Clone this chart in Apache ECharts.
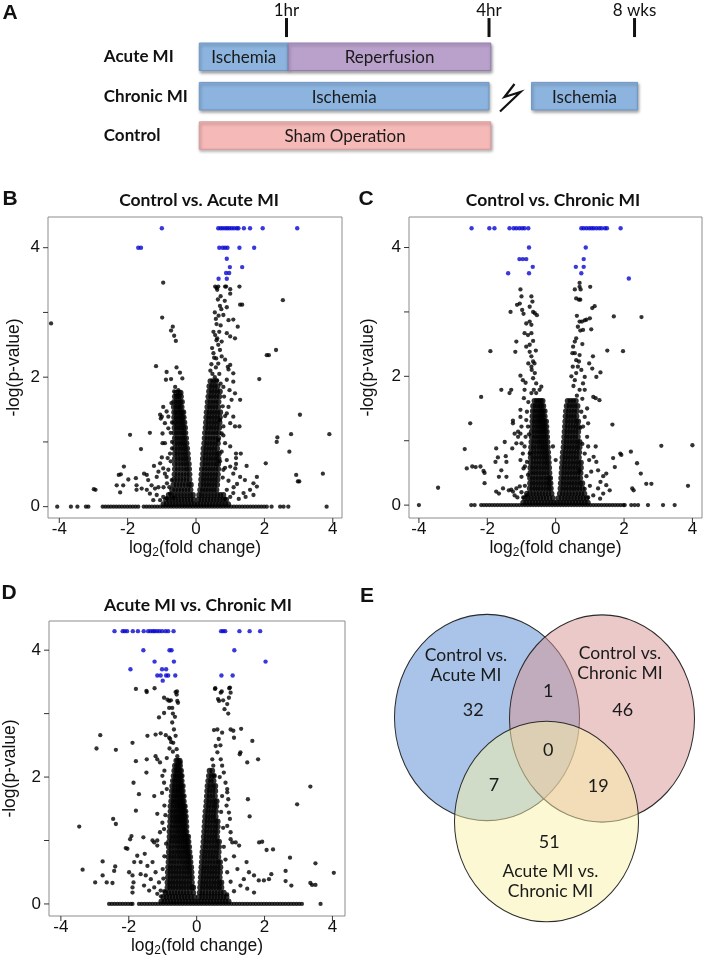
<!DOCTYPE html>
<html><head><meta charset="utf-8">
<script src="https://cdn.jsdelivr.net/npm/echarts@6/dist/echarts.min.js"></script>
<style>html,body{margin:0;padding:0;background:#fff}#c{width:703px;height:958px}</style>
</head><body><div id="c"></div>
<script>
// ---------- Panel A: study design timeline (schematic positions 0-100) ----------
const stageRows = ['Acute MI', 'Chronic MI', 'Control'];
const stageLabels = ['Ischemia', 'Reperfusion', 'Ischemia', 'Ischemia', 'Sham Operation'];
const stageKind = ['isch', 'rep', 'isch', 'isch', 'sham'];
const stageRow = [0, 0, 1, 1, 2];
const stageStart = [0, 20.3, 0, 75.8, 0];
const stageEnd = [20.3, 66.5, 66.1, 100, 66.5];
const timeTickLabels = ['1hr', '4hr', '8 wks'];
const timeTickPos = [19.9, 66.1, 99.3];

// ---------- Panel titles ----------
const volcanoTitles = ['Control vs. Acute MI', 'Control vs. Chronic MI', 'Acute MI vs. Chronic MI'];
const xTicks = [-4, -2, 0, 2, 4];
const yTickMarks = [0, 1, 2, 3, 4];
const yTickLabels = [0, 2, 4];

// ---------- Panel B: Control vs. Acute MI ----------
const bSig = [[-1.0,4.3],[0.65,4.3],[0.72,4.3],[0.78,4.3],[0.85,4.3],[0.91,4.3],[0.97,4.3],[1.04,4.3],[1.11,4.3],[1.19,4.3],[1.24,4.3],[1.40,4.3],[1.58,4.3],[1.95,4.3],[2.96,4.3],
[-1.69,4.0],[-1.61,4.0],[0.68,4.0],[0.78,4.0],[0.85,4.0],[0.92,4.0],[1.27,4.0],[1.70,4.0],
[0.90,3.83],[0.99,3.70],[1.35,3.70],[0.88,3.61],[0.97,3.61],[0.66,3.52],[0.90,3.52]];
const bOut = [[-4.24,2.83],[-0.96,3.46],[-0.99,2.92],[-0.73,2.72],[-0.68,2.78],[-0.64,2.64],[-0.59,2.56],[-1.17,2.17],[-0.86,2.08],[-0.88,1.96],[-0.73,1.97],[-0.57,2.15],[-0.47,2.07],[-0.40,1.98],[-0.61,1.85],[-0.64,1.78],[-0.52,1.80],[-0.96,1.54],[-0.86,1.47],[-0.81,1.39],[-1.0,1.39],[-1.05,1.42],[-1.03,1.36],[-0.91,1.29],[-0.81,1.21],[-0.74,1.14],[-0.98,1.13],[-0.98,0.98],[-0.91,0.98],[-1.35,1.14],[-1.93,1.11],[-1.61,0.89],[-0.76,0.82],[-0.83,0.75],[-1.0,0.76],[-1.05,0.67],[-0.96,0.59],[-1.1,0.54],[-0.91,0.51],[-1.15,0.46],[-1.23,0.63],[-1.44,0.49],[-1.52,0.51],[-1.40,0.41],[-1.30,0.33],[-1.2,0.28],[-1.44,0.26],[-1.59,0.28],[-1.76,0.44],[-1.74,0.33],[-1.74,0.26],[-2.11,0.62],[-2.26,0.49],[-2.2,0.5],[-2.32,0.33],[-2.13,0.33],[-2.22,0.22],[-2.99,0.27],[-2.94,0.26],[-1.98,0.42],[-0.86,0.46],[-0.81,0.57],[-0.74,0.7],[-0.71,0.41],[-1.35,0.2],[-1.15,0.18],[-0.96,0.15],[-0.86,0.13],[-1.25,0.1],[-1.05,0.1],[-0.76,0.2],[-0.66,0.14],[-1.1,0.3],[-0.95,0.3],[-0.85,0.36],[-0.78,0.3],[-0.7,1.3],[-0.72,1.6],[-0.7,1.0],[-0.7,0.9],
[0.56,3.40],[0.60,3.38],[0.88,3.40],[1.0,3.36],[0.65,3.40],[0.62,3.35],[0.85,3.40],[1.27,3.40],[1.0,3.29],[0.70,3.10],[1.29,3.12],[1.35,3.12],[0.80,2.96],[0.95,2.88],[1.09,2.89],[1.22,2.78],[1.14,2.60],[0.51,2.70],[0.56,2.65],[0.60,2.57],[0.65,2.50],[0.75,2.55],[0.70,2.42],[0.9,2.68],[1.0,2.63],[0.51,2.37],[0.59,2.29],[0.65,2.21],[0.75,2.32],[0.85,2.27],[0.93,2.16],[1.0,2.19],[0.95,2.12],[1.09,2.06],[0.9,1.96],[1.09,1.93],[0.98,1.80],[1.14,1.75],[1.04,1.65],[1.29,1.65],[0.95,1.54],[0.9,1.44],[1.09,1.39],[1.0,1.29],[1.14,1.24],[1.27,1.24],[0.70,1.34],[0.8,1.24],[0.75,1.13],[0.65,1.03],[0.85,0.98],[1.0,0.93],[1.17,0.82],[1.31,0.82],[1.17,0.75],[1.17,0.66],[1.15,0.59],[1.48,0.63],[0.9,0.72],[1.0,0.62],[0.8,0.57],[1.09,0.51],[1.29,0.46],[1.43,0.41],[1.78,0.46],[1.68,0.36],[1.78,0.31],[1.58,0.26],[1.39,0.21],[1.09,0.21],[0.9,0.26],[1.68,0.18],[2.54,3.19],[2.07,2.34],[2.13,2.34],[2.34,2.42],[1.85,1.97],[3.04,1.42],[3.90,1.12],[2.78,1.12],[2.38,1.07],[2.36,1.0],[2.73,0.85],[2.04,0.67],[2.93,0.49],[2.98,0.39],[3.02,0.39],[3.71,0.51],
[0.45,2.2],[0.48,2.05],[0.55,2.0],[0.62,1.95],[0.72,1.9],[0.8,1.85],[0.82,1.7],[0.78,1.55],[0.85,1.4],[0.8,1.1],[0.75,0.85],[0.7,0.7],[0.85,0.6],[0.78,0.45],[0.95,0.4],[1.2,0.35],[1.0,0.15],[1.25,0.12],[1.45,0.15],[0.85,0.12],[1.1,0.3],[0.47,2.45],[0.53,2.3],[0.58,2.15],[0.42,2.1],[0.68,2.05],[0.62,2.6],[0.68,2.7],[0.72,2.8],[0.58,2.9],[0.66,2.95],[0.74,3.05],[0.64,3.2],[0.72,3.25],[0.84,3.18],[0.9,3.08],[0.55,3.0],[0.6,2.82]];
const bBase = [-4.06,-3.66,-3.47,-3.22,-3.15,-2.73,-2.65,-2.57,-2.49,-2.41,-2.33,-2.25,-2.17,-2.09,-2.01,-1.93,-1.85,-1.77,-1.69,-1.53,-1.45,-1.37,-1.29,-1.21,-1.13,-1.05,-0.97,-0.89,-0.81,-0.73,-0.65,-0.57,-0.49,-0.41,-0.33,-0.25,-0.17,-0.09,-0.01,0.07,0.15,0.23,0.31,0.39,0.47,0.55,0.63,0.71,0.79,0.87,0.95,1.03,1.11,1.19,1.27,1.35,1.43,1.51,1.59,1.67,1.75,1.83,1.91,1.99,2.07,2.21,2.46,2.56,2.7,3.82];
const bCore = [
[0.04,-0.95,-0.86,-0.77,-0.68,-0.59,-0.5,-0.41,-0.32,-0.23,-0.14,-0.05,0.04,0.13,0.22,0.31,0.4,0.49,0.58,0.67,0.76,0.85,0.94],
[0.11,-0.88,-0.79,-0.7,-0.61,-0.52,-0.43,-0.34,-0.25,-0.16,-0.07,0.07,0.16,0.25,0.34,0.43,0.52,0.61,0.7,0.79,0.88],
[0.18,-0.8,-0.71,-0.62,-0.53,-0.44,-0.35,-0.26,-0.17,-0.09,0.09,0.17,0.26,0.35,0.44,0.53,0.62,0.71,0.8],
[0.26,-0.7,-0.61,-0.52,-0.43,-0.34,-0.25,-0.16],[0.34,-0.66,-0.57,-0.48,-0.39,-0.3,-0.21,-0.15],[0.42,-0.64,-0.55,-0.46,-0.37,-0.28,-0.19],[0.5,-0.63,-0.54,-0.45,-0.36,-0.27,-0.19],[0.58,-0.62,-0.53,-0.44,-0.35,-0.27,-0.2],[0.66,-0.62,-0.53,-0.44,-0.36,-0.28,-0.21],[0.74,-0.62,-0.53,-0.45,-0.37,-0.3,-0.23],[0.82,-0.62,-0.54,-0.46,-0.38,-0.31,-0.24],[0.9,-0.62,-0.54,-0.46,-0.39,-0.32,-0.26],[0.98,-0.62,-0.54,-0.47,-0.4,-0.34,-0.28],[1.06,-0.62,-0.55,-0.48,-0.41,-0.35,-0.29],[1.14,-0.63,-0.56,-0.49,-0.42,-0.36,-0.31],[1.22,-0.63,-0.56,-0.49,-0.43,-0.37,-0.32],[1.3,-0.63,-0.57,-0.5,-0.44,-0.39,-0.34],[1.38,-0.64,-0.57,-0.51,-0.45,-0.4,-0.36],[1.46,-0.64,-0.58,-0.52,-0.46,-0.41,-0.37],[1.54,-0.65,-0.58,-0.52,-0.47,-0.42],[1.62,-0.64,-0.58,-0.52,-0.46,-0.41],[1.7,-0.62,-0.56,-0.5,-0.44],[1.76,-0.58,-0.5,-0.45],
[0.26,0.12,0.2,0.28,0.36,0.44,0.52,0.6],[0.34,0.14,0.22,0.3,0.38,0.46,0.54,0.62],[0.42,0.15,0.23,0.31,0.39,0.47,0.55,0.63],[0.5,0.16,0.24,0.32,0.4,0.48,0.56,0.64],[0.58,0.17,0.25,0.33,0.41,0.49,0.57,0.65],[0.66,0.19,0.27,0.35,0.43,0.51,0.59,0.65],[0.74,0.2,0.28,0.36,0.44,0.52,0.6,0.66],[0.82,0.21,0.29,0.37,0.45,0.53,0.61,0.67],[0.9,0.22,0.3,0.38,0.46,0.54,0.62],[0.98,0.24,0.32,0.4,0.48,0.56,0.64],[1.06,0.25,0.33,0.41,0.49,0.57,0.65],[1.14,0.26,0.34,0.42,0.5,0.58,0.66],[1.22,0.28,0.36,0.44,0.52,0.6,0.68],[1.3,0.29,0.37,0.45,0.53,0.61,0.69],[1.38,0.3,0.38,0.46,0.54,0.62,0.7],[1.46,0.31,0.39,0.47,0.55,0.63,0.71],[1.54,0.33,0.41,0.49,0.57,0.65],[1.62,0.34,0.42,0.5,0.58,0.66],[1.7,0.36,0.44,0.52,0.6,0.68],[1.78,0.38,0.46,0.54,0.62,0.7],[1.86,0.39,0.47,0.55,0.63],[1.94,0.42,0.5,0.58]];

// ---------- Panel C: Control vs. Chronic MI ----------
const cSig = [[-2.46,4.3],[-1.94,4.3],[-1.79,4.3],[-1.35,4.3],[-1.23,4.3],[-1.15,4.3],[-1.06,4.3],[-0.98,4.3],[-0.91,4.3],[-0.80,4.3],[0.75,4.3],[0.82,4.3],[0.90,4.3],[0.98,4.3],[1.05,4.3],[1.11,4.3],[1.19,4.3],[1.27,4.3],[1.34,4.3],[1.44,4.3],[1.50,4.3],[1.90,4.3],
[-0.78,4.0],[0.88,4.0],[-1.06,3.82],[-0.96,3.82],[-0.86,3.82],[0.82,3.82],[-0.67,3.70],[0.59,3.70],[0.82,3.70],[-1.39,3.60],[-0.78,3.60],[0.75,3.60],[2.14,3.52]];
const cOut = [[-3.44,0.27],[-2.66,0.87],[-2.60,0.57],[-2.44,0.60],[-2.34,0.59],[-2.2,0.60],[-2.11,0.53],[-2.08,0.5],[-2.08,0.34],[-2.50,1.27],[-2.18,1.68],[-1.91,2.39],[-1.74,0.88],[-1.76,0.67],[-1.69,0.74],[-1.59,1.79],[-1.59,0.54],[-1.66,0.44],[-1.74,0.21],[-1.66,0.18],[-1.54,0.26],[-1.49,0.98],[-1.46,0.76],[-1.44,0.67],[-1.44,0.44],[-1.35,1.74],[-1.30,1.79],[-1.30,0.24],[-1.37,0.23],[-1.25,0.21],[-1.15,0.26],[-1.05,0.29],[-1.25,1.31],[-1.25,1.27],[-1.27,0.88],[-1.15,0.96],[-1.10,1.06],[-1.03,1.11],[-1.2,1.11],[-1.18,2.38],[-1.15,2.54],[-1.13,3.11],[-1.05,3.13],[-1.32,3.0],[-1.0,3.24],[-1.03,3.35],[-0.98,3.03],[-0.94,2.97],[-0.71,3.24],[-0.68,3.16],[-0.76,3.08],[-0.66,3.0],[-0.61,2.98],[-0.55,2.95],[-0.86,2.82],[-0.76,2.85],[-0.71,2.80],[-0.91,2.67],[-0.81,2.64],[-0.71,2.67],[-0.86,2.46],[-0.76,2.49],[-0.76,2.38],[-0.71,2.31],[-0.66,2.23],[-0.71,2.15],[-0.61,2.05],[-0.66,1.97],[-0.57,1.89],[-0.64,1.79],[-0.71,1.74],[-0.57,1.74],[-0.47,1.79],[-0.42,1.84],[-1.03,2.01],[-0.96,1.94],[-0.88,1.90],[-0.91,1.79],[-0.93,1.66],[-1.03,1.48],[-1.03,1.37],[-1.0,1.22],[-1.10,1.14],[-1.0,0.96],[-0.96,0.80],[-1.03,0.70],[-0.94,0.57],[-1.0,0.44],[-0.86,1.32],[-0.81,1.22],[-0.88,1.06],[-0.91,0.91],[-0.76,0.80],[-0.84,0.67],[-0.81,0.47],[-0.08,0.91],[0.0,0.70],[-0.9,0.3],[-1.0,0.2],[-0.85,0.15],[-0.95,0.12],[-1.12,0.12],[-0.7,2.1],[-0.62,2.2],[-0.8,2.2],[-0.58,2.4],[-0.66,2.55],[-0.8,1.6],[-0.84,1.45],[-0.78,1.1],[-0.9,0.6],[-1.2,0.15],
[0.56,3.35],[0.70,3.39],[0.70,3.45],[1.01,3.39],[0.60,3.21],[0.68,3.19],[0.72,3.19],[1.14,3.09],[1.07,3.06],[0.62,2.94],[0.70,2.85],[0.77,2.85],[0.85,2.87],[0.90,2.88],[1.0,2.90],[1.04,2.73],[0.65,2.77],[0.72,2.71],[0.80,2.72],[0.51,2.46],[0.56,2.54],[0.60,2.59],[0.49,2.36],[0.56,2.36],[0.70,2.33],[0.78,2.5],[0.60,2.25],[0.68,2.23],[0.65,2.15],[0.75,2.10],[0.60,2.05],[0.46,2.0],[0.56,1.94],[0.98,2.20],[1.09,2.31],[1.07,2.12],[1.31,2.06],[1.19,1.99],[0.85,1.99],[0.80,1.89],[0.70,1.79],[0.85,1.79],[1.10,1.68],[1.28,1.63],[1.17,1.66],[0.92,1.50],[0.85,1.37],[0.95,1.27],[0.80,1.22],[0.92,1.06],[0.95,0.91],[0.85,0.80],[0.98,0.70],[1.17,0.91],[1.11,0.75],[1.19,0.67],[1.24,0.54],[1.04,0.52],[1.39,0.45],[1.48,0.49],[1.31,0.36],[1.48,0.31],[1.58,0.23],[1.39,0.18],[1.24,0.26],[1.70,2.93],[1.51,2.40],[1.97,2.39],[1.66,1.25],[1.89,0.80],[1.92,0.78],[1.68,0.73],[1.73,0.59],[2.20,0.83],[2.38,0.65],[2.49,0.49],[2.24,0.26],[2.28,0.23],[2.65,0.33],[2.80,0.33],[2.51,2.92],[3.09,0.92],[4.0,0.93],[3.87,0.30],[0.70,0.53],[0.73,3.35],[0.5,2.15],[0.52,1.85],[0.62,1.7],[0.78,1.65],[0.75,1.45],[0.72,1.2],[0.78,0.95],[0.9,0.45],[1.0,0.3],[0.85,0.25],[1.1,0.15],[0.95,0.12],[1.3,0.1]];
const cBase = [-4.0,-2.47,-2.37,-2.18,-2.1,-2.02,-1.94,-1.86,-1.78,-1.7,-1.62,-1.54,-1.46,-1.38,-1.3,-1.22,-1.14,-1.06,-0.98,-0.9,-0.82,-0.74,-0.66,-0.58,-0.5,-0.42,-0.34,-0.26,-0.18,-0.1,-0.02,0.06,0.14,0.22,0.3,0.38,0.46,0.54,0.62,0.7,0.78,0.86,0.94,1.02,1.1,1.18,1.26,1.34,1.42,1.5,1.58,1.66,1.74,1.82,1.9,1.98,2.02,2.21,2.31,2.41,2.70,3.14,3.48];
const cCore = [
[0.04,-0.95,-0.86,-0.77,-0.68,-0.59,-0.5,-0.41,-0.32,-0.23,-0.14,-0.05,0.04,0.13,0.22,0.31,0.4,0.49,0.58,0.67,0.76,0.85,0.94],
[0.11,-0.9,-0.81,-0.72,-0.63,-0.54,-0.45,-0.36,-0.27,-0.18,-0.08,0.08,0.18,0.27,0.36,0.45,0.54,0.63,0.72,0.81,0.9],
[0.18,-0.84,-0.75,-0.66,-0.57,-0.48,-0.39,-0.3,-0.21,-0.12,0.12,0.21,0.3,0.39,0.48,0.57,0.66,0.75,0.84],
[0.26,-0.76,-0.68,-0.6,-0.52,-0.44,-0.36,-0.28,-0.2,-0.14],[0.34,-0.75,-0.67,-0.59,-0.51,-0.43,-0.35,-0.27,-0.2,-0.15],[0.42,-0.75,-0.67,-0.59,-0.51,-0.43,-0.35,-0.27,-0.2,-0.16],[0.5,-0.74,-0.66,-0.58,-0.5,-0.42,-0.34,-0.26,-0.18],[0.58,-0.74,-0.66,-0.58,-0.5,-0.42,-0.34,-0.26,-0.19],[0.66,-0.73,-0.65,-0.57,-0.49,-0.41,-0.33,-0.26,-0.2],[0.74,-0.73,-0.65,-0.57,-0.49,-0.41,-0.34,-0.27,-0.21],[0.82,-0.72,-0.64,-0.56,-0.48,-0.41,-0.34,-0.28,-0.22],[0.9,-0.72,-0.64,-0.56,-0.48,-0.41,-0.35,-0.29,-0.23],[0.98,-0.71,-0.63,-0.55,-0.48,-0.42,-0.36,-0.3,-0.24],[1.06,-0.7,-0.62,-0.55,-0.48,-0.42,-0.36,-0.3,-0.25],[1.14,-0.7,-0.62,-0.55,-0.48,-0.42,-0.37,-0.31,-0.26],[1.22,-0.69,-0.61,-0.54,-0.48,-0.42,-0.37,-0.32,-0.27],[1.3,-0.68,-0.61,-0.54,-0.48,-0.43,-0.38,-0.33,-0.28],[1.38,-0.68,-0.6,-0.53,-0.47,-0.42,-0.37,-0.32],[1.46,-0.67,-0.6,-0.53,-0.47,-0.42,-0.37,-0.32],[1.54,-0.66,-0.59,-0.52,-0.46,-0.41,-0.36],[1.62,-0.62,-0.55,-0.49,-0.43,-0.38],
[0.26,0.14,0.22,0.3,0.38,0.46,0.54,0.62,0.7,0.78],[0.34,0.15,0.23,0.31,0.39,0.47,0.55,0.63,0.71,0.78],[0.42,0.16,0.24,0.32,0.4,0.48,0.56,0.64,0.72],[0.5,0.17,0.25,0.33,0.41,0.49,0.57,0.65,0.73],[0.58,0.18,0.26,0.34,0.42,0.5,0.58,0.66,0.74],[0.66,0.19,0.27,0.35,0.43,0.51,0.59,0.67,0.74],[0.74,0.2,0.28,0.36,0.44,0.52,0.6,0.68],[0.82,0.21,0.29,0.37,0.45,0.53,0.61,0.69],[0.9,0.23,0.31,0.39,0.47,0.55,0.63,0.7],[0.98,0.24,0.32,0.4,0.48,0.56,0.64,0.7],[1.06,0.25,0.33,0.41,0.49,0.57,0.65],[1.14,0.26,0.34,0.42,0.5,0.58,0.66],[1.22,0.27,0.35,0.43,0.51,0.59,0.66],[1.3,0.28,0.36,0.44,0.52,0.6,0.66],[1.38,0.29,0.37,0.45,0.53,0.61],[1.46,0.3,0.38,0.46,0.54,0.62],[1.54,0.32,0.4,0.48,0.56,0.64],[1.62,0.35,0.43,0.51,0.59]];

// ---------- Panel D: Acute MI vs. Chronic MI ----------
const dSig = [[-2.42,4.3],[-2.18,4.3],[-2.12,4.3],[-2.05,4.3],[-1.88,4.3],[-1.73,4.3],[-1.56,4.3],[-1.43,4.3],[-1.36,4.3],[-1.29,4.3],[-1.24,4.3],[-1.17,4.3],[-1.10,4.3],[-1.02,4.3],[-0.92,4.3],[-0.84,4.3],[-0.68,4.3],[0.72,4.3],[0.78,4.3],[0.84,4.3],[1.26,4.3],[1.56,4.3],[1.87,4.3],
[-1.57,4.0],[-0.80,4.0],[-0.74,4.0],[1.11,4.0],[-1.24,3.82],[-0.67,3.82],[2.03,3.82],[-1.95,3.70],[-1.02,3.70],[-0.90,3.70],
[-1.16,3.60],[-1.06,3.60],[-0.90,3.60],[-0.84,3.60],[-0.63,3.60],[0.73,3.60],[1.06,3.60],[-1.0,3.52]];
const dOut = [[-1.79,3.39],[-1.47,3.34],[-1.24,3.40],[-1.48,3.36],[-0.58,3.35],[-0.96,3.25],[-0.86,3.22],[-0.81,3.20],[-0.76,3.21],[-0.72,3.09],[-0.62,3.34],[-0.59,3.30],[-0.57,3.20],[-0.55,3.17],[-1.11,2.94],[-0.96,3.01],[-0.81,3.09],[-2.84,2.66],[-2.95,2.45],[-2.38,2.43],[-1.89,2.54],[-1.79,2.25],[-1.45,2.65],[-1.21,2.67],[-1.06,2.69],[-0.91,2.66],[-0.81,2.62],[-1.47,2.28],[-1.48,2.07],[-1.21,2.33],[-1.16,2.28],[-1.08,2.23],[-1.01,2.02],[-0.96,1.91],[-0.88,1.81],[-0.72,2.86],[-0.67,2.75],[-0.62,2.65],[-0.69,2.54],[-0.59,2.44],[-0.57,2.33],[-0.47,2.23],[-1.86,1.91],[-1.70,1.73],[-1.79,1.47],[-1.25,1.70],[-1.16,1.42],[-2.46,1.34],[-2.38,1.26],[-3.46,1.22],[-1.92,1.07],[-1.96,1.02],[-2.04,0.87],[-2.09,0.88],[-1.57,1.05],[-1.53,0.79],[-1.30,1.0],[-1.25,0.97],[-1.16,0.92],[-1.01,1.28],[-0.96,1.18],[-1.08,1.13],[-1.16,1.0],[-1.75,0.76],[-1.84,0.66],[-2.77,0.67],[-3.36,0.54],[-2.40,0.59],[-2.43,0.52],[-2.77,0.45],[-2.65,0.34],[-2.99,0.34],[-2.48,0.33],[-1.99,0.50],[-1.89,0.45],[-1.86,0.34],[-1.89,0.26],[-1.89,0.18],[-1.65,0.66],[-1.45,0.60],[-1.30,0.66],[-1.21,0.50],[-1.35,0.39],[-1.11,0.34],[-1.25,0.26],[-1.06,0.21],[-1.5,0.45],[-1.65,0.47],[-1.55,0.29],[-1.40,0.21],[-1.16,0.16],[-0.95,2.1],[-0.88,2.3],[-0.8,2.45],[-0.75,2.55],[-1.02,1.75],[-0.95,1.55],[-0.92,1.4],[-0.9,0.95],[-0.95,0.75],[-1.0,0.55],[-0.98,0.4],[-1.05,0.12],[-0.95,0.2],[-0.78,2.6],[-0.7,2.4],[-0.64,2.95],[-0.7,3.0],
[0.54,3.39],[0.63,3.23],[0.66,3.20],[0.71,3.33],[0.78,3.21],[0.82,3.07],[0.90,3.15],[0.98,3.41],[1.0,3.33],[0.93,3.0],[0.95,3.25],[0.55,3.4],[0.96,3.4],[0.74,3.35],[0.51,2.74],[0.61,2.75],[0.75,2.70],[1.0,2.75],[1.08,2.73],[1.31,2.76],[1.10,2.62],[1.64,2.57],[1.29,2.39],[1.27,2.36],[1.49,2.23],[1.81,2.28],[0.56,2.49],[0.61,2.39],[0.71,2.28],[0.75,2.18],[0.80,2.07],[0.85,1.91],[0.90,1.81],[0.46,2.28],[0.49,2.18],[0.51,2.02],[0.90,1.76],[0.93,1.65],[0.88,1.55],[0.95,1.44],[0.98,1.34],[0.90,1.23],[1.0,1.13],[1.05,0.97],[1.51,1.65],[1.56,1.38],[1.0,1.02],[1.15,0.97],[1.25,0.92],[1.47,0.66],[1.54,0.50],[1.39,0.39],[1.69,0.45],[1.83,0.37],[1.98,0.37],[2.13,0.39],[1.29,0.29],[1.49,0.24],[1.69,0.18],[1.84,0.97],[1.93,0.98],[2.06,0.85],[2.25,0.86],[2.20,0.47],[2.62,0.52],[2.62,0.36],[2.75,0.73],[2.79,0.29],[2.96,1.57],[3.35,1.85],[3.50,0.64],[3.35,0.33],[3.40,0.30],[3.50,0.30],[4.04,0.49],[0.65,2.6],[0.7,2.5],[0.68,2.0],[0.75,1.7],[0.72,1.45],[0.78,1.2],[0.8,0.9],[0.85,0.7],[0.9,0.5],[1.0,0.35],[1.1,0.2],[0.9,0.15],[1.2,0.55],[1.1,0.75]];
const dBase = [-2.58,-2.5,-2.42,-2.34,-2.26,-2.18,-2.1,-2.02,-1.94,-1.89,-1.7,-1.62,-1.54,-1.46,-1.38,-1.3,-1.22,-1.14,-1.06,-0.98,-0.9,-0.82,-0.74,-0.66,-0.58,-0.5,-0.42,-0.34,-0.26,-0.18,-0.1,-0.02,0.06,0.14,0.22,0.3,0.38,0.46,0.54,0.62,0.7,0.78,0.86,0.94,1.02,1.1,1.18,1.26,1.34,1.42,1.5,1.58,1.66,1.74,1.82,1.9,1.98,2.06,2.14,2.22,2.3,2.38,2.46,2.54,2.62,2.7,2.78,2.86,2.94,3.02,3.1,3.65];
const dCore = [
[0.04,-1.04,-0.95,-0.86,-0.77,-0.68,-0.59,-0.5,-0.41,-0.32,-0.23,-0.14,-0.05,0.04,0.13,0.22,0.31,0.4,0.49,0.58,0.67,0.76,0.85,0.94],
[0.11,-0.98,-0.89,-0.8,-0.71,-0.62,-0.53,-0.44,-0.35,-0.26,-0.17,-0.07,0.07,0.16,0.25,0.34,0.43,0.52,0.61,0.7,0.79,0.88],
[0.18,-0.92,-0.83,-0.74,-0.65,-0.56,-0.47,-0.38,-0.29,-0.2,-0.1,0.09,0.17,0.26,0.35,0.44,0.53,0.62,0.71,0.8],
[0.26,-0.86,-0.78,-0.7,-0.62,-0.54,-0.46,-0.38,-0.3,-0.22,-0.14,-0.1],[0.34,-0.86,-0.78,-0.7,-0.62,-0.54,-0.46,-0.38,-0.3,-0.22,-0.14],[0.42,-0.85,-0.77,-0.69,-0.61,-0.53,-0.45,-0.37,-0.29,-0.21,-0.14],[0.5,-0.85,-0.77,-0.69,-0.61,-0.53,-0.45,-0.37,-0.29,-0.22,-0.15],[0.58,-0.84,-0.76,-0.68,-0.6,-0.52,-0.44,-0.36,-0.29,-0.22,-0.16],[0.66,-0.83,-0.75,-0.67,-0.59,-0.51,-0.43,-0.36,-0.29,-0.23,-0.18],[0.74,-0.83,-0.75,-0.67,-0.59,-0.51,-0.44,-0.37,-0.3,-0.24,-0.19],[0.82,-0.82,-0.74,-0.66,-0.58,-0.51,-0.44,-0.37,-0.31,-0.26,-0.21],[0.9,-0.82,-0.74,-0.66,-0.58,-0.51,-0.44,-0.38,-0.32,-0.27,-0.22],[0.98,-0.81,-0.73,-0.65,-0.58,-0.51,-0.45,-0.39,-0.33,-0.28,-0.24],[1.06,-0.8,-0.72,-0.65,-0.58,-0.51,-0.45,-0.39,-0.34,-0.29,-0.25],[1.14,-0.8,-0.72,-0.64,-0.57,-0.51,-0.45,-0.39,-0.34,-0.3],[1.22,-0.79,-0.71,-0.64,-0.57,-0.51,-0.45,-0.4,-0.35,-0.3],[1.3,-0.78,-0.7,-0.63,-0.57,-0.51,-0.46,-0.41,-0.36,-0.31],[1.38,-0.78,-0.7,-0.63,-0.57,-0.51,-0.46,-0.41,-0.36,-0.32],[1.46,-0.77,-0.7,-0.63,-0.57,-0.51,-0.46,-0.42,-0.37,-0.33],[1.54,-0.77,-0.69,-0.62,-0.56,-0.51,-0.46,-0.42,-0.38,-0.35],[1.62,-0.75,-0.68,-0.62,-0.56,-0.51,-0.46,-0.42,-0.38],[1.7,-0.74,-0.67,-0.61,-0.56,-0.51,-0.46,-0.42,-0.38],[1.78,-0.73,-0.66,-0.6,-0.55,-0.5,-0.45,-0.41],[1.86,-0.72,-0.65,-0.59,-0.54,-0.49,-0.45,-0.41],[1.94,-0.7,-0.64,-0.58,-0.53,-0.48,-0.44],[2.02,-0.68,-0.62,-0.57,-0.52,-0.47,-0.44],[2.1,-0.66,-0.6,-0.55,-0.5,-0.46],[2.18,-0.64,-0.58,-0.53,-0.49],[2.26,-0.6,-0.55,-0.5],
[0.26,0.1,0.18,0.26,0.34,0.42,0.5,0.58,0.66,0.73],[0.34,0.11,0.19,0.27,0.35,0.43,0.51,0.59,0.67,0.73],[0.42,0.12,0.2,0.28,0.36,0.44,0.52,0.6,0.68],[0.5,0.13,0.21,0.29,0.37,0.45,0.53,0.61,0.69],[0.58,0.14,0.22,0.3,0.38,0.46,0.54,0.62,0.7],[0.66,0.15,0.23,0.31,0.39,0.47,0.55,0.63,0.69],[0.74,0.16,0.24,0.32,0.4,0.48,0.56,0.64],[0.82,0.17,0.25,0.33,0.41,0.49,0.57,0.65],[0.9,0.19,0.27,0.35,0.43,0.51,0.59,0.66],[0.98,0.2,0.28,0.36,0.44,0.52,0.6,0.66],[1.06,0.21,0.29,0.37,0.45,0.53,0.6],[1.14,0.22,0.3,0.38,0.46,0.54,0.61],[1.22,0.23,0.31,0.39,0.47,0.55,0.62],[1.3,0.24,0.32,0.4,0.48,0.56,0.62],[1.38,0.25,0.33,0.41,0.49,0.56],[1.46,0.26,0.34,0.42,0.5,0.57],[1.54,0.28,0.36,0.44,0.52,0.58],[1.62,0.29,0.37,0.45,0.53,0.59],[1.7,0.3,0.38,0.46,0.54],[1.78,0.31,0.39,0.47,0.55],[1.86,0.32,0.4,0.48,0.55],[1.94,0.34,0.42,0.5],[2.02,0.36,0.44,0.51],[2.1,0.38,0.46]];

// ---------- Panel E: Venn counts ----------
const vennSetNames = ['Control vs.\nAcute MI', 'Control vs.\nChronic MI', 'Acute MI vs.\nChronic MI'];
const vennRegions = ['CA only', 'CC only', 'AC only', 'CA∩CC', 'CA∩CC∩AC', 'CA∩AC', 'CC∩AC'];
const vennCounts = [32, 46, 51, 1, 0, 7, 19];

// ---------- build ----------
function rowsToPts(rows) { const o = []; rows.forEach(r => { for (let k = 1; k < r.length; k++) o.push([r[k], r[0]]); }); return o; }
function baseToPts(xs) { return xs.map(x => [x, 0]); }

const plots = [
  { left: 48, top: 217, width: 294, height: 301, xr: [-4.33, 4.27], yr: [-0.175, 4.474], nameGapY: 25, sig: bSig, out: bOut, base: bBase, core: bCore, title: volcanoTitles[0], tx: 199, ty: 200.5, letter: 'B', lx: 10, ly: 199.5 },
  { left: 409, top: 217, width: 293, height: 301, xr: [-4.29, 4.28], yr: [-0.2, 4.474], nameGapY: 32, sig: cSig, out: cOut, base: cBase, core: cCore, title: volcanoTitles[1], tx: 553, ty: 200.5, letter: 'C', lx: 366, ly: 199.5 },
  { left: 48, top: 621, width: 297, height: 296, xr: [-4.35, 4.37], yr: [-0.19, 4.46], nameGapY: 30, sig: dSig, out: dOut, base: dBase, core: dCore, title: volcanoTitles[2], tx: 198, ty: 605, letter: 'D', lx: 9, ly: 593.5 }
];

const AXF = 'Liberation Sans';
const grid = [], xAxis = [], yAxis = [], series = [], graphic = [];
plots.forEach((p, i) => {
  grid.push({ left: p.left, top: p.top, width: p.width, height: p.height, show: true, borderColor: '#8c8c8c', borderWidth: 1, backgroundColor: 'transparent' });
  xAxis.push({
    type: 'value', gridIndex: i, min: p.xr[0], max: p.xr[1], position: 'bottom',
    axisLine: { show: false, onZero: false }, splitLine: { show: false }, axisTick: { show: false },
    axisLabel: { customValues: xTicks, margin: 3, fontSize: 17, fontFamily: AXF, color: '#111' },
    name: '{a|log}{s|2}{a|(fold change)}', nameLocation: 'middle', nameGap: 19,
    nameTextStyle: { rich: { a: { fontSize: 17.5, fontFamily: AXF, color: '#111', lineHeight: 22 }, s: { fontSize: 12, fontFamily: AXF, color: '#111', lineHeight: 12, verticalAlign: 'bottom' } } }
  });
  yAxis.push({
    type: 'value', gridIndex: i, min: p.yr[0], max: p.yr[1], position: 'left',
    axisLine: { show: false, onZero: false }, splitLine: { show: false }, axisTick: { show: false },
    axisLabel: { customValues: yTickLabels, margin: 8, fontSize: 17, fontFamily: AXF, color: '#111' },
    name: '-log(p-value)', nameLocation: 'middle', nameGap: p.nameGapY,
    nameTextStyle: { fontSize: 17.5, fontFamily: AXF, color: '#111' }
  });
  const common = { type: 'scatter', xAxisIndex: i, yAxisIndex: i, silent: true, animation: false, progressive: 0, large: false };
  series.push(Object.assign({}, common, { symbolSize: 5.8, itemStyle: { color: '#000' }, data: rowsToPts(p.core) }));
  series.push(Object.assign({}, common, { symbolSize: 4.3, itemStyle: { color: '#000' }, data: baseToPts(p.base).concat(p.out) }));
  series.push(Object.assign({}, common, { symbolSize: 4.4, itemStyle: { color: '#0808d2' }, data: p.sig, z: 5 }));
  // outward tick marks on the left (y) and bottom (x) edges of the frame
  series.push({ type: 'custom', xAxisIndex: i, yAxisIndex: i, silent: true, animation: false, clip: false,
    data: yTickMarks.map(v => [p.xr[0], v]), encode: { x: 0, y: 1 },
    renderItem: function (params, api) {
      const c = api.coord([api.value(0), api.value(1)]);
      const x0 = params.coordSys.x;
      return { type: 'line', shape: { x1: x0 - 5, y1: c[1], x2: x0, y2: c[1] }, style: { stroke: '#333', lineWidth: 1 } };
    } });
  series.push({ type: 'custom', xAxisIndex: i, yAxisIndex: i, silent: true, animation: false, clip: false,
    data: xTicks.map(v => [v, p.yr[0]]), encode: { x: 0, y: 1 },
    renderItem: function (params, api) {
      const c = api.coord([api.value(0), api.value(1)]);
      const y0 = params.coordSys.y + params.coordSys.height;
      return { type: 'line', shape: { x1: c[0], y1: y0, x2: c[0], y2: y0 + 5 }, style: { stroke: '#333', lineWidth: 1 } };
    } });
  graphic.push({ type: 'text', x: p.tx, y: p.ty, style: { text: p.title, font: 'bold 17.5px Lato', fill: '#111', textAlign: 'center', textVerticalAlign: 'middle', align: 'center', verticalAlign: 'middle' } });
  graphic.push({ type: 'text', x: p.lx, y: p.ly, style: { text: p.letter, font: 'bold 21px "Liberation Sans"', fill: '#111', textAlign: 'center', textVerticalAlign: 'middle', align: 'center', verticalAlign: 'middle' } });
});

// Panel A grid
grid.push({ left: 199.3, top: 37.05, width: 438.3, height: 118.2 });
xAxis.push({ type: 'value', gridIndex: 3, min: 0, max: 100, show: false });
yAxis.push({ type: 'category', gridIndex: 3, data: stageRows, inverse: true,
  axisLine: { show: false }, axisTick: { show: false }, splitLine: { show: false },
  axisLabel: { align: 'left', margin: 95.5, fontFamily: 'Lato', fontWeight: 'bold', fontSize: 17, color: '#111', padding: [6, 0, 0, 0] } });
const stageStyle = {
  isch: { fill: '#8cb4de', stroke: '#6e98c8' },
  rep: { fill: '#b9a1cc', stroke: '#967cb0' },
  sham: { fill: '#f5b9b8', stroke: '#dc9c9b' }
};
series.push({
  type: 'custom', xAxisIndex: 3, yAxisIndex: 3, silent: true, animation: false,
  data: stageStart.map((s, i) => [s, stageEnd[i], stageRow[i], i]),
  encode: { x: [0, 1], y: 2 },
  renderItem: function (params, api) {
    const i = api.value(3);
    const a = api.coord([api.value(0), api.value(2)]);
    const b = api.coord([api.value(1), api.value(2)]);
    const h = 27.5;
    const st = stageStyle[stageKind[i]];
    return { type: 'group', children: [
      { type: 'rect', shape: { x: a[0], y: a[1] - h / 2, width: b[0] - a[0], height: h },
        style: { fill: st.fill, stroke: st.stroke, lineWidth: 1, shadowBlur: 3, shadowOffsetX: 1, shadowOffsetY: 2, shadowColor: 'rgba(0,0,0,0.35)' } },
      { type: 'text', x: (a[0] + b[0]) / 2, y: a[1] + 1,
        style: { text: stageLabels[i], font: '17px Lato', fill: '#1a1a1a', textAlign: 'center', textVerticalAlign: 'middle', align: 'center', verticalAlign: 'middle' } }
    ] };
  }
});
series.push({
  type: 'custom', xAxisIndex: 3, yAxisIndex: 3, silent: true, animation: false,
  data: timeTickPos.map((t, i) => [t, 0, i]),
  encode: { x: 0 },
  renderItem: function (params, api) {
    const i = api.value(2);
    const x = api.coord([api.value(0), 0])[0];
    const top = params.coordSys.y;
    return { type: 'group', children: [
      { type: 'line', shape: { x1: x, y1: top - 19, x2: x, y2: top }, style: { stroke: '#111', lineWidth: 3 } },
      { type: 'text', x: x, y: top - 27, style: { text: timeTickLabels[i], font: '17px Lato', fill: '#111', textAlign: 'center', textVerticalAlign: 'middle', align: 'center', verticalAlign: 'middle' } }
    ] };
  }
});
graphic.push({ type: 'text', x: 10, y: 13.5, style: { text: 'A', font: 'bold 21px "Liberation Sans"', fill: '#111', textAlign: 'center', textVerticalAlign: 'middle', align: 'center', verticalAlign: 'middle' } });
// time-axis break mark
graphic.push({ type: 'polyline', shape: { points: [[514.5, 84], [504.5, 97], [520.5, 92], [500, 111.5]] }, style: { stroke: '#111', lineWidth: 2.2, fill: null } });

// Panel E: Venn
graphic.push({ type: 'text', x: 367, y: 596.5, style: { text: 'E', font: 'bold 21px "Liberation Sans"', fill: '#111', textAlign: 'center', textVerticalAlign: 'middle', align: 'center', verticalAlign: 'middle' } });
const vennShapes = [
  { cx: 487, cy: 717.5, r: 92.5, sy: 1.115, fill: 'rgba(83,137,209,0.5)' },
  { cx: 602, cy: 718.5, r: 92.5, sy: 1.12, fill: 'rgba(217,147,147,0.5)' },
  { cx: 546.5, cy: 821.5, r: 92, sy: 1.09, fill: 'rgba(247,241,167,0.5)' }
];
vennShapes.forEach(v => graphic.push({ type: 'circle', x: v.cx, y: v.cy, scaleY: v.sy, shape: { cx: 0, cy: 0, r: v.r }, style: { fill: v.fill, stroke: '#2b2b2b', lineWidth: 1, strokeNoScale: true }, silent: true }));
const vennNamePos = [[466, 665.5], [620, 663.5], [550.5, 881.5]];
vennSetNames.forEach((n, i) => graphic.push({ type: 'text', x: vennNamePos[i][0], y: vennNamePos[i][1], style: { text: n, font: '17.5px Lato', lineHeight: 20.5, fill: '#1a1a1a', textAlign: 'center', textVerticalAlign: 'middle', align: 'center', verticalAlign: 'middle' } }));
const vennCountPos = [[473.3, 710], [622.7, 710], [549.3, 841.7], [548.3, 690.7], [548.3, 750], [494, 785], [598.3, 786]];
vennCounts.forEach((c, i) => graphic.push({ type: 'text', x: vennCountPos[i][0], y: vennCountPos[i][1], style: { text: String(c), font: '18px Lato', fill: '#1a1a1a', textAlign: 'center', textVerticalAlign: 'middle', align: 'center', verticalAlign: 'middle' } }));

const chart = echarts.init(document.getElementById('c'), null, { renderer: 'canvas' });
chart.setOption({ animation: false, backgroundColor: '#fff', grid, xAxis, yAxis, series, graphic });
</script></body></html>
